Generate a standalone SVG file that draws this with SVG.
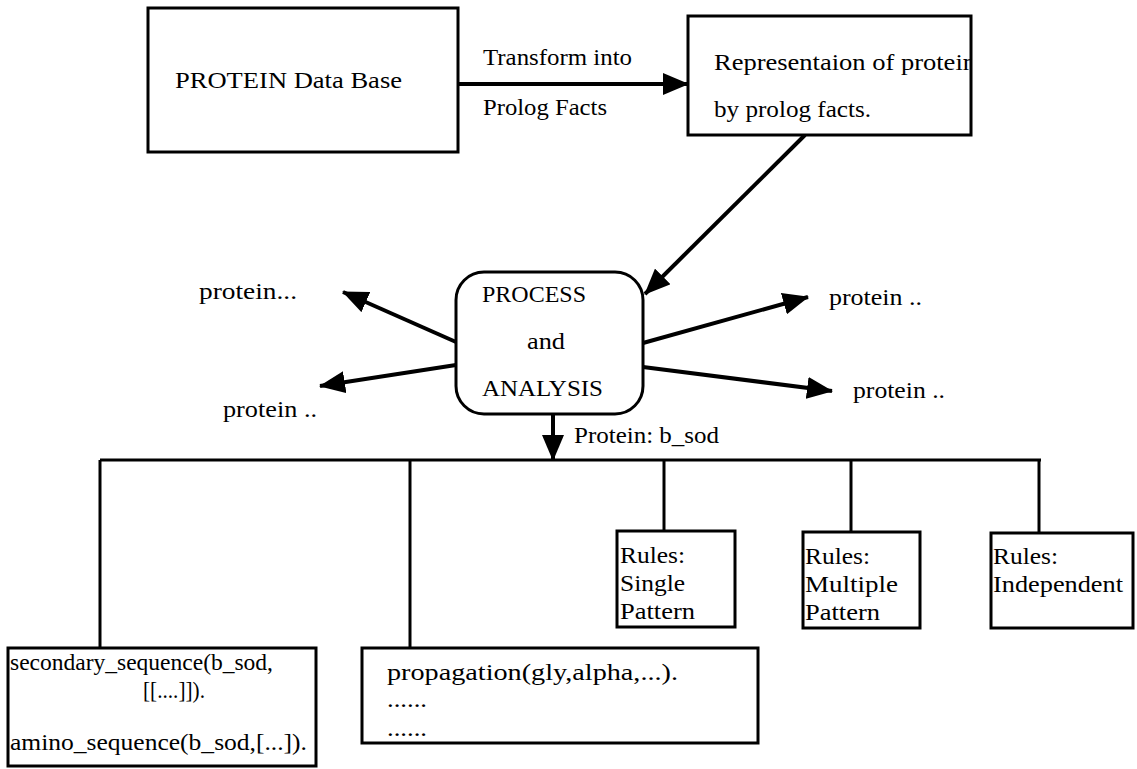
<svg xmlns="http://www.w3.org/2000/svg" width="1137" height="769" viewBox="0 0 1137 769">
  <style>
    .box { fill: #fff; stroke: #000; stroke-width: 3; }
    .wire { fill: none; stroke: #000; stroke-width: 3; }
    .arrow { fill: none; stroke: #000; stroke-width: 4; marker-end: url(#head); }
    text { font-family: "Liberation Serif", "DejaVu Serif", serif; font-size: 24px; fill: #000; }
  </style>
  <defs>
    <marker id="head" viewBox="0 0 26 22" refX="25" refY="11" markerWidth="26" markerHeight="22" markerUnits="userSpaceOnUse" orient="auto">
      <path d="M0,0 L26,11 L0,22 z" fill="#000"/>
    </marker>
    <clipPath id="clipRep">
      <rect x="688" y="16" width="282" height="119"/>
    </clipPath>
  </defs>

  <rect width="1137" height="769" fill="#fff"/>

  <!-- connectors -->
  <g id="connectors">
    <line class="arrow" x1="458" y1="84" x2="688" y2="84"/>
    <line class="arrow" x1="805" y1="135" x2="645" y2="294"/>
    <line class="arrow" x1="456" y1="342" x2="343" y2="292"/>
    <line class="arrow" x1="456" y1="365" x2="320" y2="386"/>
    <line class="arrow" x1="643" y1="343" x2="808" y2="297"/>
    <line class="arrow" x1="643" y1="367" x2="832" y2="391"/>
    <line class="arrow" x1="553" y1="414" x2="553" y2="460"/>
    <line class="wire" x1="100" y1="460" x2="1041" y2="460"/>
    <line class="wire" x1="100" y1="460" x2="100" y2="648"/>
    <line class="wire" x1="410" y1="460" x2="410" y2="648"/>
    <line class="wire" x1="664" y1="460" x2="664" y2="531"/>
    <line class="wire" x1="851" y1="460" x2="851" y2="532"/>
    <line class="wire" x1="1039" y1="460" x2="1039" y2="533"/>
  </g>

  <!-- edge labels -->
  <g id="labels">
    <text x="483" y="65" textLength="149" lengthAdjust="spacingAndGlyphs">Transform into</text>
    <text x="483" y="115" textLength="124" lengthAdjust="spacingAndGlyphs">Prolog Facts</text>
    <text x="199" y="299" textLength="98" lengthAdjust="spacingAndGlyphs">protein...</text>
    <text x="223" y="417" textLength="94" lengthAdjust="spacingAndGlyphs">protein ..</text>
    <text x="829" y="305" textLength="93" lengthAdjust="spacingAndGlyphs">protein ..</text>
    <text x="853" y="398" textLength="92" lengthAdjust="spacingAndGlyphs">protein ..</text>
    <text x="574" y="443" textLength="145" lengthAdjust="spacingAndGlyphs">Protein: b_sod</text>
  </g>

  <g id="protein-db">
    <rect class="box" x="148" y="8" width="310" height="144"/>
    <text x="175" y="88" textLength="227" lengthAdjust="spacingAndGlyphs">PROTEIN Data Base</text>
  </g>

  <g id="prolog-repr">
    <rect class="box" x="688" y="16" width="283" height="119"/>
    <text x="714" y="70" textLength="262" lengthAdjust="spacingAndGlyphs" clip-path="url(#clipRep)">Representaion of protein</text>
    <text x="714" y="117" textLength="157" lengthAdjust="spacingAndGlyphs">by prolog facts.</text>
  </g>

  <g id="process">
    <rect class="box" x="456" y="272" width="187" height="142" rx="28" ry="28"/>
    <text x="482" y="302" textLength="104" lengthAdjust="spacingAndGlyphs">PROCESS</text>
    <text x="527" y="349" textLength="38" lengthAdjust="spacingAndGlyphs">and</text>
    <text x="482" y="396" textLength="121" lengthAdjust="spacingAndGlyphs">ANALYSIS</text>
  </g>

  <g id="facts-box">
    <rect class="box" x="8" y="648" width="308" height="118"/>
    <text x="10" y="670" textLength="263" lengthAdjust="spacingAndGlyphs">secondary_sequence(b_sod,</text>
    <text x="143" y="698" textLength="62" lengthAdjust="spacingAndGlyphs">[[....]]).</text>
    <text x="10" y="750" textLength="297" lengthAdjust="spacingAndGlyphs">amino_sequence(b_sod,[...]).</text>
  </g>

  <g id="propagation-box">
    <rect class="box" x="362" y="648" width="396" height="95"/>
    <text x="387" y="680" textLength="291" lengthAdjust="spacingAndGlyphs">propagation(gly,alpha,...).</text>
    <text x="387" y="707" textLength="40" lengthAdjust="spacingAndGlyphs">......</text>
    <text x="387" y="736" textLength="40" lengthAdjust="spacingAndGlyphs">......</text>
  </g>

  <g id="rules-single">
    <rect class="box" x="617" y="531" width="118" height="96"/>
    <text x="620" y="563" textLength="65" lengthAdjust="spacingAndGlyphs">Rules:</text>
    <text x="620" y="591" textLength="65" lengthAdjust="spacingAndGlyphs">Single</text>
    <text x="620" y="619" textLength="75" lengthAdjust="spacingAndGlyphs">Pattern</text>
  </g>

  <g id="rules-multiple">
    <rect class="box" x="803" y="532" width="117" height="96"/>
    <text x="805" y="564" textLength="65" lengthAdjust="spacingAndGlyphs">Rules:</text>
    <text x="805" y="592" textLength="93" lengthAdjust="spacingAndGlyphs">Multiple</text>
    <text x="805" y="620" textLength="75" lengthAdjust="spacingAndGlyphs">Pattern</text>
  </g>

  <g id="rules-independent">
    <rect class="box" x="991" y="533" width="142" height="95"/>
    <text x="993" y="564" textLength="65" lengthAdjust="spacingAndGlyphs">Rules:</text>
    <text x="993" y="592" textLength="130" lengthAdjust="spacingAndGlyphs">Independent</text>
  </g>
</svg>
